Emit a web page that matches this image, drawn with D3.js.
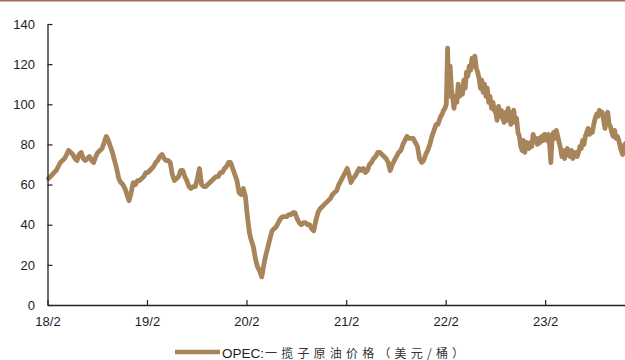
<!DOCTYPE html>
<html>
<head>
<meta charset="utf-8">
<script src="https://cdn.jsdelivr.net/npm/d3@7"></script>
<style>
  html, body { margin: 0; padding: 0; background: #fff; }
  svg { display: block; }
</style>
</head>
<body>
<svg id="chart" width="625" height="360"></svg>
<script>
// OPEC reference basket price, USD/barrel.
// Readings grouped by month (weekly or finer); 2018 starts in February.
const prices2018 = [
  [63, 64, 65, 66], [67, 69, 71, 72], [73, 75, 77, 76], [75, 73, 72, 75],
  [76, 73, 72, 73], [74, 72, 71, 74], [76, 77, 78, 81], [84, 82, 79, 76],
  [72, 68, 63, 61], [60, 58, 55, 52], [56, 61, 60, 62]
];
const prices2019 = [
  [62, 63, 64, 66], [66, 67, 68, 69], [71, 72, 74, 75], [73, 72, 72, 71],
  [65, 62, 63, 64], [67, 67, 64, 62], [59, 58, 59, 59], [63, 68, 60, 59],
  [59, 60, 61, 62], [63, 64, 64, 66], [66, 68, 69, 71], [71, 68, 65, 62]
];
const prices2020 = [
  [56, 55, 58, 54], [44, 36, 32, 29], [23, 19, 17, 14], [20, 25, 29, 33],
  [37, 38, 39, 41], [43, 44, 44, 44], [45, 45, 46, 46], [43, 41, 40, 41],
  [41, 40, 40, 38], [37, 42, 46, 48], [49, 50, 51, 52], [53, 55, 56, 57]
];
const prices2021 = [
  [60, 62, 64, 66], [68, 65, 61, 63], [64, 66, 68, 67], [68, 66, 67, 70],
  [71, 73, 74, 76], [76, 75, 74, 73], [71, 67, 70, 72], [74, 76, 77, 80],
  [82, 84, 83, 83], [83, 81, 79, 73], [71, 72, 75, 77], [80, 84, 87, 90]
];
const prices2022 = [
  [90, 92, 94, 95, 97, 98], [100, 128, 104, 119, 108, 103],
  [98, 104, 101, 110, 104, 107], [105, 112, 108, 116, 114, 119],
  [117, 123, 119, 124, 118, 116], [113, 108, 112, 106, 110, 104],
  [108, 101, 104, 98, 101, 97], [96, 92, 99, 94, 97, 93],
  [91, 96, 92, 98, 93, 90], [94, 97, 91, 93, 86, 84],
  [79, 77, 82, 76, 81, 80], [78, 81, 79, 85, 82, 83]
];
const prices2023 = [
  [80, 83, 81, 84, 82, 85], [84, 82, 85, 80, 71, 84],
  [86, 83, 87, 84, 81, 78], [74, 77, 73, 76, 78, 75],
  [74, 77, 73, 75, 76, 74], [76, 79, 78, 82, 80, 84],
  [86, 88, 85, 87, 86, 90], [93, 95, 94, 97, 95, 96],
  [92, 88, 94, 96, 90, 89], [86, 84, 87, 83, 84, 82],
  [78, 75, 80, 81]
];

const yTicks = [0, 20, 40, 60, 80, 100, 120, 140];
const xTickYears = [2018, 2019, 2020, 2021, 2022, 2023];
const seriesName = "OPEC:";
const seriesNameCn = "一揽子原油价格（美元/桶）";

// Spread each month's readings evenly across that month.
const yearBlocks = [
  { year: 2018, firstMonth: 1, months: prices2018 },
  { year: 2019, firstMonth: 0, months: prices2019 },
  { year: 2020, firstMonth: 0, months: prices2020 },
  { year: 2021, firstMonth: 0, months: prices2021 },
  { year: 2022, firstMonth: 0, months: prices2022 },
  { year: 2023, firstMonth: 0, months: prices2023 }
];
const series = [];
yearBlocks.forEach(b => {
  b.months.forEach((vals, k) => {
    const start = new Date(b.year, b.firstMonth + k, 1).getTime();
    const end = new Date(b.year, b.firstMonth + k + 1, 1).getTime();
    vals.forEach((v, i) => {
      series.push({ date: new Date(start + (i + 0.5) / vals.length * (end - start)), value: v });
    });
  });
});

const svg = d3.select("#chart");
const W = 625;
const plotLeft = 47.5, plotRight = 625, plotTop = 24, plotBottom = 305;

const x = d3.scaleTime()
  .domain([new Date(2018, 1, 1), new Date(2023, 10, 21)])
  .range([plotLeft, plotRight]);
const y = d3.scaleLinear().domain([0, 140]).range([plotBottom, plotTop]);

const lineColor = "#a8845a";
const textColor = "#1c1c28";
const font = "'Liberation Sans', Arial, sans-serif";

// thin rule across the top edge
svg.append("line")
  .attr("x1", 0).attr("x2", W).attr("y1", 0.75).attr("y2", 0.75)
  .attr("stroke", "#a5704f").attr("stroke-width", 1.5);

// price line
svg.append("path")
  .datum(series)
  .attr("fill", "none")
  .attr("stroke", lineColor)
  .attr("stroke-width", 4.8)
  .attr("stroke-linejoin", "round")
  .attr("stroke-linecap", "round")
  .attr("d", d3.line().x(d => x(d.date)).y(d => y(d.value)));

// y axis
const yAxis = svg.append("g")
  .attr("transform", `translate(${plotLeft},0)`)
  .call(d3.axisLeft(y).tickValues(yTicks).tickSizeInner(-5).tickSizeOuter(0).tickPadding(12.5));

// x axis
const xAxis = svg.append("g")
  .attr("transform", `translate(0,${plotBottom})`)
  .call(d3.axisBottom(x)
    .tickValues(xTickYears.map(yr => new Date(yr, 1, 1)))
    .tickFormat(d => `${String(d.getFullYear()).slice(2)}/${d.getMonth() + 1}`)
    .tickSizeInner(-5).tickSizeOuter(0).tickPadding(11.4));

[yAxis, xAxis].forEach(g => {
  g.select(".domain").attr("stroke", "#222").attr("stroke-width", 1.3);
  g.selectAll(".tick line").attr("stroke", "#222").attr("stroke-width", 1.2);
  g.selectAll(".tick text")
    .attr("fill", textColor)
    .style("font-family", font)
    .style("font-size", "13px");
});

// legend
svg.append("line")
  .attr("x1", 175).attr("x2", 220).attr("y1", 352).attr("y2", 352)
  .attr("stroke", lineColor).attr("stroke-width", 4.5);
const legendText = svg.append("text")
  .attr("x", 222).attr("y", 357.5)
  .attr("fill", textColor);
legendText.append("tspan")
  .style("font-family", font)
  .style("font-size", "13.5px")
  .text(seriesName);
legendText.append("tspan")
  .attr("dx", 1)
  .style("font-family", "'Noto Sans CJK SC', sans-serif")
  .style("font-size", "12px")
  .style("letter-spacing", "4.2px")
  .attr("fill", "#333")
  .text(seriesNameCn);
</script>
</body>
</html>
